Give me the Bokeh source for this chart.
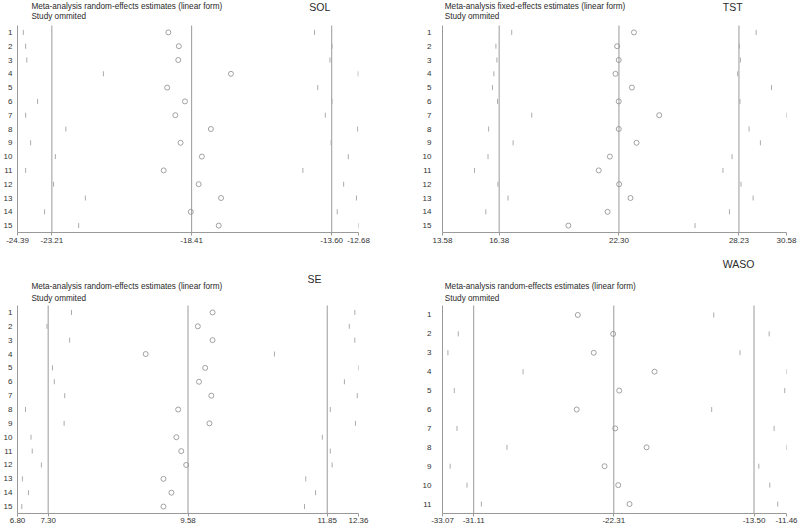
import numpy as np
from bokeh.plotting import figure
from bokeh.models import Range1d, FixedTicker, NumeralTickFormatter, Label, ColumnDataSource
from bokeh.layouts import column, row
from bokeh.embed import file_html
from bokeh.resources import INLINE

FONT = "Liberation Sans"

# ---------------- data ----------------
sol_study = list(range(1, 16))
sol_lower = [-24.19, -24.11, -24.07, -21.44, -24.39, -23.70, -24.11, -22.73, -23.94, -23.09, -24.11, -23.15, -22.06, -23.46, -22.29]
sol_est = [-19.21, -18.85, -18.87, -17.06, -19.25, -18.64, -18.97, -17.75, -18.79, -18.06, -19.37, -18.17, -17.40, -18.44, -17.48]
sol_upper = [-14.19, -13.59, -13.66, -12.69, -14.08, -13.59, -13.82, -12.71, -13.62, -13.03, -14.59, -13.19, -12.75, -13.41, -12.68]
sol_ticks = [-24.39, -23.21, -18.41, -13.60, -12.68]

tst_study = list(range(1, 16))
tst_lower = [17.00, 16.22, 16.27, 16.12, 16.05, 16.30, 17.99, 15.86, 17.07, 15.83, 15.16, 16.32, 16.82, 15.72, 13.58]
tst_est = [23.04, 22.21, 22.29, 22.13, 22.94, 22.29, 24.29, 22.29, 23.17, 21.85, 21.30, 22.31, 22.87, 21.74, 19.80]
tst_upper = [29.08, 28.25, 28.30, 28.17, 29.84, 28.28, 30.58, 28.73, 29.29, 27.89, 27.44, 28.33, 28.93, 27.76, 26.06]
tst_ticks = [13.58, 16.38, 22.30, 28.23, 30.58]

se_study = list(range(1, 16))
se_lower = [7.68, 7.28, 7.65, 6.80, 7.37, 7.40, 7.57, 6.93, 7.56, 7.02, 7.04, 7.19, 6.88, 6.98, 6.87]
se_est = [9.98, 9.74, 9.98, 8.89, 9.86, 9.76, 9.96, 9.42, 9.93, 9.39, 9.47, 9.55, 9.18, 9.31, 9.18]
se_upper = [12.30, 12.21, 12.30, 10.99, 12.36, 12.13, 12.34, 11.90, 12.31, 11.77, 11.90, 11.93, 11.50, 11.66, 11.48]
se_ticks = [6.80, 7.30, 9.58, 11.85, 12.36]

waso_study = list(range(1, 12))
waso_lower = [-33.07, -32.08, -32.73, -28.01, -32.33, -33.07, -32.16, -29.02, -32.59, -31.53, -30.63]
waso_est = [-24.57, -22.35, -23.57, -19.75, -21.97, -24.64, -22.22, -20.25, -22.89, -22.03, -21.32]
waso_upper = [-16.03, -12.55, -14.38, -11.46, -11.57, -16.16, -12.24, -11.46, -13.20, -12.51, -12.01]
waso_ticks = [-33.07, -31.11, -22.31, -13.50, -11.46]

titles = {
    "SOL": "Meta-analysis random-effects estimates (linear form)",
    "TST": "Meta-analysis fixed-effects estimates (linear form)",
    "SE": "Meta-analysis random-effects estimates (linear form)",
    "WASO": "Meta-analysis random-effects estimates (linear form)",
}
subtitle = "Study ommited"

LINE = "#9a9a9a"
TXT = "#2a2a2a"


def panel(name, study, lower, est, upper, ticks, height, left, right, bottom,
          rows_top, standoff, x_standoff, title_px, sub_py, name_px, name_py):
    n = len(study)
    width = 400
    frame_w = width - left - right
    rows_bottom = height - bottom
    row_px = (rows_bottom - rows_top) / n
    y_top = 0.5 - rows_top / row_px

    def dx(px):
        return ticks[0] + (px - left) * (ticks[-1] - ticks[0]) / frame_w

    def dy(py):
        return 0.5 + (py - rows_top) / row_px

    p = figure(width=width, height=height, output_backend="svg", toolbar_location=None,
               title=None,
               x_range=Range1d(ticks[0], ticks[-1]),
               y_range=Range1d(n + 0.5, y_top),
               min_border_left=left, min_border_right=right,
               min_border_top=0, min_border_bottom=bottom)
    p.outline_line_color = None
    p.xgrid.visible = False
    p.ygrid.visible = False
    p.background_fill_color = "white"
    p.border_fill_color = "white"

    ref = ColumnDataSource(dict(x=ticks[1:-1], y0=[0.5] * 3, y1=[n + 0.5] * 3))
    p.segment(x0="x", y0="y0", x1="x", y1="y1", source=ref, line_color=LINE, line_width=1)

    src = ColumnDataSource(dict(study=study, lower=lower, est=est, upper=upper))
    p.scatter(x="lower", y="study", source=src, marker="dash", angle=np.pi / 2, size=5,
              line_color="#ababab", line_width=1)
    p.scatter(x="upper", y="study", source=src, marker="dash", angle=np.pi / 2, size=5,
              line_color="#ababab", line_width=1)
    p.scatter(x="est", y="study", source=src, marker="circle", size=5,
              fill_color=None, line_color="#8c8c8c", line_width=0.8)

    xa = p.xaxis[0]
    xa.ticker = FixedTicker(ticks=ticks)
    xa.formatter = NumeralTickFormatter(format="0.00")
    xa.axis_line_color = LINE
    xa.major_tick_line_color = LINE
    xa.major_tick_in = 0
    xa.major_tick_out = 3
    xa.minor_tick_line_color = None
    xa.major_label_standoff = x_standoff
    xa.major_label_text_font_size = "8px"
    xa.major_label_text_font = FONT
    xa.major_label_text_color = "#333333"

    ya = p.yaxis[0]
    ya.ticker = FixedTicker(ticks=study)
    ya.bounds = (0.5, n + 0.5)
    ya.axis_line_color = LINE
    ya.major_tick_line_color = None
    ya.major_tick_in = 0
    ya.major_tick_out = 0
    ya.minor_tick_line_color = None
    ya.major_label_standoff = standoff
    ya.major_label_text_font_size = "8px"
    ya.major_label_text_font = FONT
    ya.major_label_text_color = "#333333"

    p.add_layout(Label(x=dx(title_px[0]), y=dy(title_px[1]),
                       text=titles[name], text_font=FONT, text_font_size="8.2px",
                       text_color=TXT, text_baseline="middle", text_align="left"))
    p.add_layout(Label(x=dx(title_px[0]), y=dy(sub_py),
                       text=subtitle, text_font=FONT, text_font_size="8.2px",
                       text_color=TXT, text_baseline="middle", text_align="left"))
    p.add_layout(Label(x=dx(name_px), y=dy(name_py),
                       text=name, text_font=FONT, text_font_size="10.5px",
                       text_color=TXT, text_baseline="middle", text_align="center"))
    return p


# top row: height 255, rows region 25..232 ; bottom row: height 272, rows region 50..258
p1 = panel("SOL", sol_study, sol_lower, sol_est, sol_upper, sol_ticks,
           255, 14, 42, 23, 25, 5, 2, (28, 5.7), 15.7, 319, 6.2)
p2 = panel("TST", tst_study, tst_lower, tst_est, tst_upper, tst_ticks,
           255, 42, 14, 23, 25, 11, 2, (44.3, 5.7), 15.7, 332.2, 6.2)
p3 = panel("SE", se_study, se_lower, se_est, se_upper, se_ticks,
           272, 14, 42, 14, 50, 5, 1, (28, 30.7), 43, 313.5, 23.3)
p4 = panel("WASO", waso_study, waso_lower, waso_est, waso_upper, waso_ticks,
           272, 42, 14, 14, 50, 11, 1, (44.3, 31), 43, 338, 8.3)

layout = column(row(p1, p2), row(p3, p4))

open("out.html", "w").write(file_html(layout, INLINE))
